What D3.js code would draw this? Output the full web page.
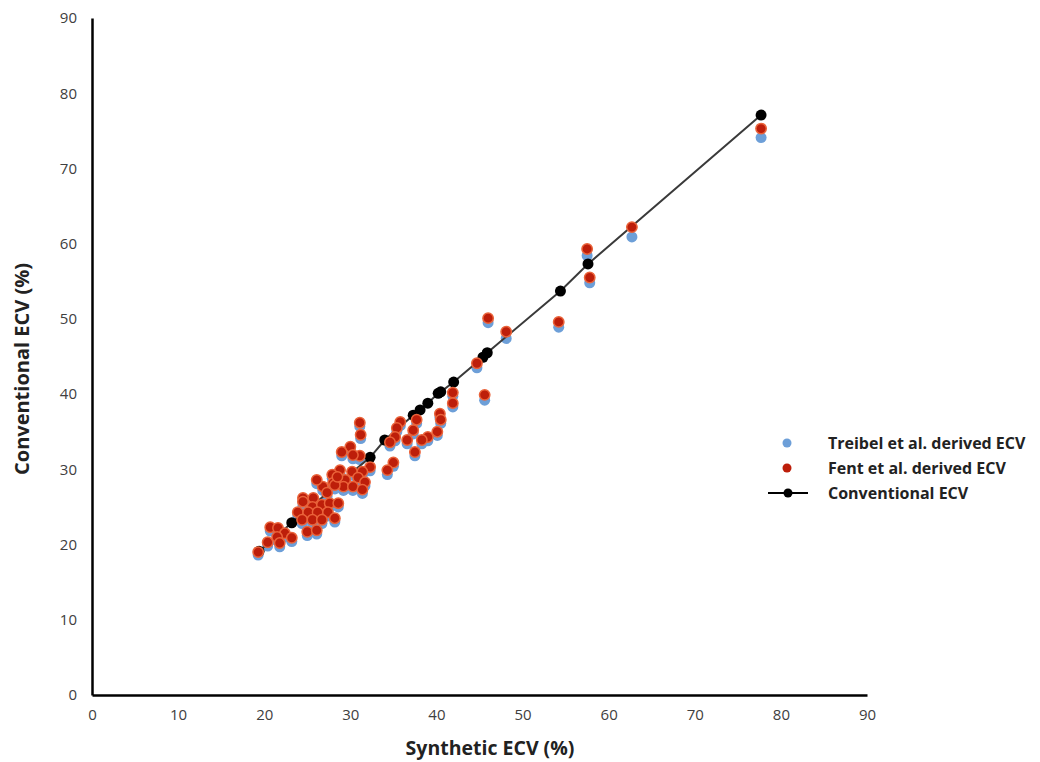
<!DOCTYPE html>
<html>
<head>
<meta charset="utf-8">
<script src="https://cdn.jsdelivr.net/npm/d3@7"></script>
<style>
  body { margin: 0; background: #fff; }
  text { font-family: "Open Sans", "Noto Sans", sans-serif; }
</style>
</head>
<body>
<script>
// Synthetic ECV (x) shared by both derived series
var synthX = [77.7, 62.7, 57.5, 57.8, 54.2, 48.1, 46.0, 45.6, 44.7, 41.9,
              41.9, 40.4, 40.5, 37.7, 37.3, 40.1, 39.0, 38.3, 35.8, 35.4,
              35.2, 36.6, 34.6, 37.5, 31.1, 31.2, 31.1, 35.0, 32.3, 30.0,
              29.0, 30.3, 34.3, 28.8, 30.2, 31.4, 27.9, 30.9, 29.4, 31.7,
              28.0, 26.8, 26.1, 29.2, 30.3, 31.4, 27.3, 25.7, 24.5, 28.2,
              28.5, 24.5, 25.6, 26.7, 27.6, 28.6, 23.9, 25.1, 26.2, 27.4,
              28.2, 24.4, 25.6, 26.7, 25.0, 26.1, 20.7, 21.6, 22.4, 23.2,
              21.5, 20.4, 21.8, 19.3];
// Conventional ECV (y) for Fent et al.
var fentY = [75.3, 62.2, 59.3, 55.5, 49.6, 48.3, 50.1, 39.9, 44.1, 40.2,
             38.8, 37.4, 36.6, 36.6, 35.2, 35.0, 34.3, 33.9, 36.3, 35.5,
             34.3, 33.9, 33.6, 32.3, 36.2, 34.6, 31.8, 30.9, 30.3, 33.0,
             32.3, 31.9, 29.9, 29.9, 29.7, 29.7, 29.3, 28.9, 28.6, 28.3,
             28.2, 27.7, 28.6, 27.7, 27.7, 27.3, 26.9, 26.2, 26.2, 27.9,
             29.0, 25.7, 25.0, 25.3, 25.5, 25.5, 24.3, 24.3, 24.3, 24.3,
             23.5, 23.3, 23.3, 23.3, 21.7, 21.9, 22.3, 22.2, 21.5, 20.9,
             21.0, 20.3, 20.2, 19.0];
// Conventional ECV (y) for Treibel et al.
var treibelY = [74.1, 60.9, 58.4, 54.8, 48.9, 47.4, 49.5, 39.2, 43.5, 39.7,
                38.3, 36.9, 36.1, 36.1, 34.7, 34.5, 33.8, 33.4, 35.8, 35.0,
                33.8, 33.4, 33.1, 31.8, 35.7, 34.1, 31.3, 30.4, 29.8, 32.5,
                31.8, 31.4, 29.3, 29.4, 29.2, 29.2, 28.8, 28.4, 28.1, 27.8,
                27.7, 27.2, 28.1, 27.2, 27.2, 26.8, 26.4, 25.7, 25.7, 27.4,
                28.5, 25.2, 24.5, 24.8, 25.0, 25.0, 23.8, 23.8, 23.8, 23.8,
                23.0, 22.8, 22.8, 22.8, 21.2, 21.4, 21.8, 21.7, 21.0, 20.4,
                20.5, 19.8, 19.7, 18.6];
// Conventional ECV line
var convX = [19.4, 23.2, 32.3, 34.0, 37.3, 38.1, 39.0, 40.2, 40.5, 42.0, 45.4, 45.9, 54.4, 57.6, 77.7];
var convY = [19.1, 22.9, 31.6, 33.9, 37.2, 37.9, 38.8, 40.1, 40.3, 41.6, 44.9, 45.5, 53.7, 57.3, 77.1];

var xTicks = [0, 10, 20, 30, 40, 50, 60, 70, 80, 90];
var yTicks = [0, 10, 20, 30, 40, 50, 60, 70, 80, 90];
var seriesNames = ["Treibel et al. derived ECV", "Fent et al. derived ECV", "Conventional ECV"];

var width = 1040, height = 762;
var x = d3.scaleLinear().domain([0, 90]).range([92, 867]);
var y = d3.scaleLinear().domain([0, 90]).range([695, 18]);

var svg = d3.select("body").append("svg")
    .attr("width", width)
    .attr("height", height);

// Axes (Excel style, no tick marks)
svg.append("g")
    .attr("transform", "translate(0," + y(0) + ")")
    .call(d3.axisBottom(x).tickValues(xTicks).tickSize(0).tickPadding(14))
    .call(function(g) {
      g.select(".domain").attr("stroke", "#000").attr("stroke-width", 2.5);
      g.selectAll("text").attr("fill", "#404040").style("font-size", "15px");
    });

svg.append("g")
    .attr("transform", "translate(" + x(0) + ",0)")
    .call(d3.axisLeft(y).tickValues(yTicks).tickSize(0).tickPadding(15))
    .call(function(g) {
      g.select(".domain").attr("stroke", "#000").attr("stroke-width", 2.5);
      g.selectAll("text").attr("fill", "#404040").style("font-size", "15px");
    });

// Axis titles
svg.append("text")
    .attr("x", 490).attr("y", 755)
    .attr("text-anchor", "middle")
    .style("font-size", "19.5px").style("font-weight", "bold")
    .attr("fill", "#222")
    .text("Synthetic ECV (%)");

svg.append("text")
    .attr("text-anchor", "middle")
    .attr("transform", "translate(29," + 369 + ")rotate(-90)")
    .style("font-size", "20px").style("font-weight", "bold")
    .attr("fill", "#222")
    .text("Conventional ECV (%)");

// Points
var idx = d3.range(synthX.length);
var conv = d3.range(convX.length).map(function(i) { return [convX[i], convY[i]]; });

svg.append("g").selectAll("circle")
    .data(idx)
    .enter().append("circle")
    .attr("cx", function(i) { return x(synthX[i]); })
    .attr("cy", function(i) { return y(treibelY[i]); })
    .attr("r", 5.5)
    .attr("fill", "#6d9fd8");

// Conventional line and markers
svg.append("path")
    .datum(conv)
    .attr("fill", "none")
    .attr("stroke", "#3a3a3a")
    .attr("stroke-width", 2)
    .attr("d", d3.line().x(function(d) { return x(d[0]); }).y(function(d) { return y(d[1]); }));

svg.append("g").selectAll("circle")
    .data(conv)
    .enter().append("circle")
    .attr("cx", function(d) { return x(d[0]); })
    .attr("cy", function(d) { return y(d[1]); })
    .attr("r", 5.5)
    .attr("fill", "#000");

svg.append("g").selectAll("circle")
    .data(idx)
    .enter().append("circle")
    .attr("cx", function(i) { return x(synthX[i]); })
    .attr("cy", function(i) { return y(fentY[i]); })
    .attr("r", 5.2)
    .attr("fill", "#bd1e0a")
    .attr("stroke", "#ea633a")
    .attr("stroke-width", 1.5);

// Legend
var legend = svg.append("g").attr("transform", "translate(787,443)");
legend.append("circle").attr("cx", 0).attr("cy", 0).attr("r", 4.5).attr("fill", "#6d9fd8");
legend.append("circle").attr("cx", 0).attr("cy", 25).attr("r", 4.5).attr("fill", "#bd1e0a");
legend.append("line").attr("x1", -19).attr("x2", 21).attr("y1", 50).attr("y2", 50)
    .attr("stroke", "#000").attr("stroke-width", 2);
legend.append("circle").attr("cx", 1).attr("cy", 50).attr("r", 4.5).attr("fill", "#000");
legend.selectAll(".lt")
    .data(seriesNames)
    .enter().append("text")
    .attr("class", "lt")
    .attr("x", 41)
    .attr("y", function(d, i) { return i * 25 + 6; })
    .style("font-size", "16px").style("font-weight", "bold")
    .attr("fill", "#222")
    .text(function(d) { return d; });
</script>
</body>
</html>
